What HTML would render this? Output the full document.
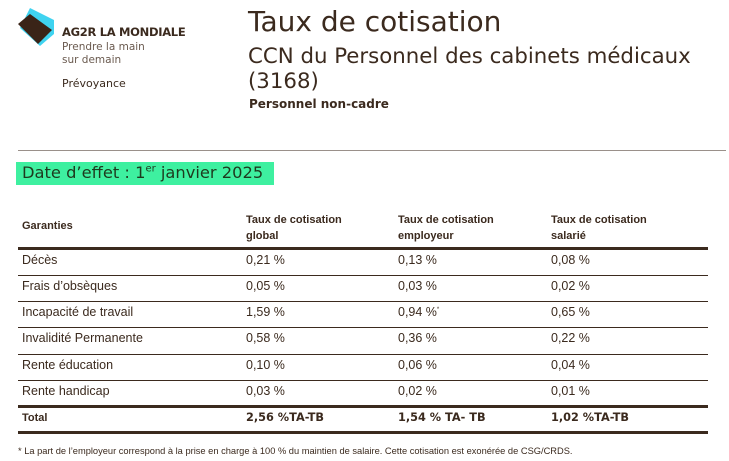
<!DOCTYPE html><html><head><meta charset="utf-8"><style>
body{margin:0;width:729px;height:461px;background:#fff;position:relative;font-family:"DejaVu Sans","Liberation Sans",sans-serif;color:#3b2a1e;overflow:hidden}
.a{position:absolute;white-space:nowrap}
.n{font-family:"Liberation Sans",sans-serif;font-stretch:condensed}
.line{position:absolute;left:18px;width:690px;background:#3b2a1e}
</style></head><body>
<svg class="a" style="left:16px;top:6px" width="42" height="42" viewBox="0 0 42 42">
<polygon points="14,2 38,14 38,28 24,40 4,22" fill="#3fd3f0"/>
<polygon points="2,18 14,8 36,24 22,38" fill="#3a2418"/>
</svg>
<div class="a" style="left:62px;top:25px;font-size:11.5px;font-weight:bold;letter-spacing:-0.3px">AG2R LA MONDIALE</div>
<div class="a" style="left:62px;top:41px;font-size:10.5px;color:#6a5a4f;line-height:13px">Prendre la main<br>sur demain</div>
<div class="a" style="left:62px;top:77px;font-size:11px">Prévoyance</div>
<div class="a" style="left:248px;top:5px;font-size:28px">Taux de cotisation</div>
<div class="a" style="left:248px;top:44px;font-size:21.3px;line-height:25px">CCN du Personnel des cabinets médicaux<br>(3168)</div>
<div class="a" style="left:249px;top:97px;font-size:12px;font-weight:bold">Personnel non-cadre</div>
<div class="a" style="left:18px;top:150px;width:708px;height:1px;background:#9a908a"></div>
<div class="a" style="left:16px;top:162px;width:258px;height:23px;background:#3ef0a0"></div>
<div class="a" style="left:22px;top:163px;font-size:16.3px;color:#1e3a1e">Date d’effet : 1<sup style="font-size:10px">er</sup> janvier 2025</div>
<div class="a n" style="left:22px;top:220px;font-size:11px;font-weight:bold">Garanties</div>
<div class="a n" style="left:246px;top:212px;font-size:11px;font-weight:bold;line-height:16px">Taux de cotisation<br>global</div>
<div class="a n" style="left:398px;top:212px;font-size:11px;font-weight:bold;line-height:16px">Taux de cotisation<br>employeur</div>
<div class="a n" style="left:551px;top:212px;font-size:11px;font-weight:bold;line-height:16px">Taux de cotisation<br>salarié</div>
<div class="line" style="top:247px;height:3px"></div>
<div class="line" style="top:275px;height:1px"></div>
<div class="line" style="top:301px;height:1px"></div>
<div class="line" style="top:327px;height:1px"></div>
<div class="line" style="top:354px;height:1px"></div>
<div class="line" style="top:380px;height:1px"></div>
<div class="line" style="top:405px;height:3px"></div>
<div class="line" style="top:431px;height:3px"></div>
<div class="n" style="position:absolute;left:0;top:253px;font-size:12.5px">
<div class="a" style="left:22px;top:0">Décès</div><div class="a" style="left:246px;top:0">0,21 %</div><div class="a" style="left:398px;top:0">0,13 %</div><div class="a" style="left:551px;top:0">0,08 %</div>
<div class="a" style="left:22px;top:26px">Frais d’obsèques</div><div class="a" style="left:246px;top:26px">0,05 %</div><div class="a" style="left:398px;top:26px">0,03 %</div><div class="a" style="left:551px;top:26px">0,02 %</div>
<div class="a" style="left:22px;top:52px">Incapacité de travail</div><div class="a" style="left:246px;top:52px">1,59 %</div><div class="a" style="left:398px;top:52px">0,94 %<sup style="font-size:6px">*</sup></div><div class="a" style="left:551px;top:52px">0,65 %</div>
<div class="a" style="left:22px;top:78px">Invalidité Permanente</div><div class="a" style="left:246px;top:78px">0,58 %</div><div class="a" style="left:398px;top:78px">0,36 %</div><div class="a" style="left:551px;top:78px">0,22 %</div>
<div class="a" style="left:22px;top:105px">Rente éducation</div><div class="a" style="left:246px;top:105px">0,10 %</div><div class="a" style="left:398px;top:105px">0,06 %</div><div class="a" style="left:551px;top:105px">0,04 %</div>
<div class="a" style="left:22px;top:131px">Rente handicap</div><div class="a" style="left:246px;top:131px">0,03 %</div><div class="a" style="left:398px;top:131px">0,02 %</div><div class="a" style="left:551px;top:131px">0,01 %</div>
</div>
<div style="position:absolute;left:0;top:411px;font-size:11.3px;font-weight:bold">
<div class="a n" style="left:22px;top:1px;font-size:11px">Total</div><div class="a" style="left:246px;top:0">2,56 %TA-TB</div><div class="a" style="left:398px;top:0">1,54 % TA- TB</div><div class="a" style="left:551px;top:0">1,02 %TA-TB</div>
</div>
<div class="a n" style="left:18px;top:446px;font-size:9.3px">* La part de l’employeur correspond à la prise en charge à 100 % du maintien de salaire. Cette cotisation est exonérée de CSG/CRDS.</div>
</body></html>
